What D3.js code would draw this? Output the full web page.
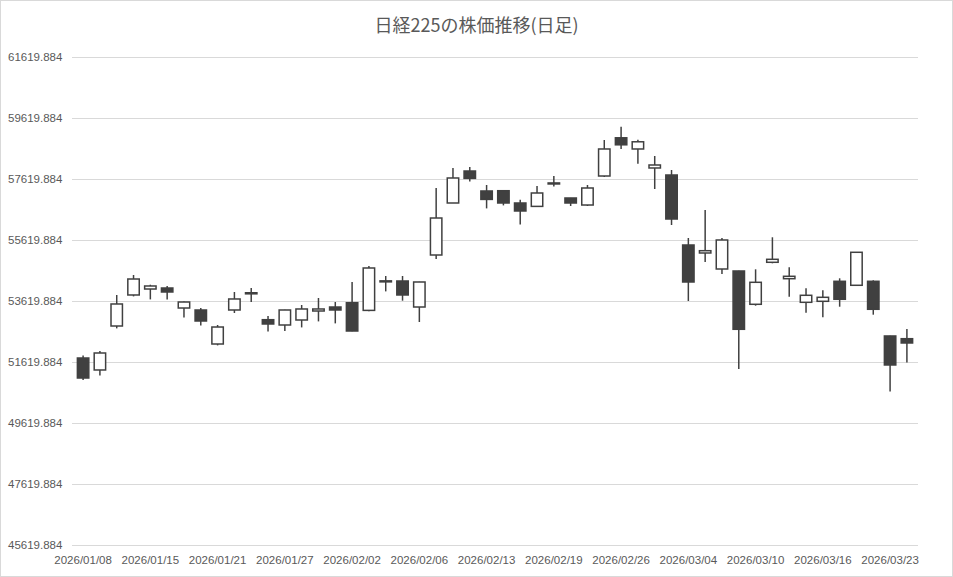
<!DOCTYPE html>
<html>
<head>
<meta charset="utf-8">
<script src="https://cdn.jsdelivr.net/npm/d3@7"></script>
<style>
  body { margin: 0; background: #fff; }
  svg { display: block; }
  .tick text { fill: #595959; font-family: "Liberation Sans", Arial, sans-serif; font-size: 11.5px; }
</style>
</head>
<body>
<div id="chart"></div>
<script>
// trading days (daily bars)
var dates = ["2026/01/08","2026/01/09","2026/01/13","2026/01/14","2026/01/15","2026/01/16","2026/01/19","2026/01/20",
  "2026/01/21","2026/01/22","2026/01/23","2026/01/26","2026/01/27","2026/01/28","2026/01/29","2026/01/30",
  "2026/02/02","2026/02/03","2026/02/04","2026/02/05","2026/02/06","2026/02/09","2026/02/10","2026/02/12",
  "2026/02/13","2026/02/16","2026/02/17","2026/02/18","2026/02/19","2026/02/20","2026/02/24","2026/02/25",
  "2026/02/26","2026/02/27","2026/03/02","2026/03/03","2026/03/04","2026/03/05","2026/03/06","2026/03/09",
  "2026/03/10","2026/03/11","2026/03/12","2026/03/13","2026/03/16","2026/03/17","2026/03/18","2026/03/19",
  "2026/03/23","2026/03/24"];

var open  = [51751,51358,52800,53817,54013,54046,53390,53325,52210,53325,53890,53007,52833,52997,53292,53423,
  53564,53312,54280,54276,53423,55128,56833,57882,57227,57236,56833,56722,57490,56997,56767,57718,
  58971,58604,57981,57751,55456,55194,54669,54604,53512,54889,54351,53577,53610,54266,54135,54266,
  52473,52384];
var high  = [51836,51981,53817,54473,54154,54112,53600,53390,52833,53915,54046,53128,53330,53489,53718,53587,
  54243,54768,54440,54440,54250,57325,57981,58013,57423,57240,56941,57390,57718,57000,57423,58899,
  59331,58905,58374,57915,55686,56604,55686,54610,54659,55709,54725,54036,53971,54364,55220,54299,
  52480,52702];
var low   = [51030,51181,52722,53771,53672,53672,53082,52820,52164,53227,53587,52623,52636,52754,52951,52886,
  52630,53280,53935,53630,52931,54997,56830,57541,56656,56754,56131,56720,57377,56735,56735,57686,
  58604,58118,57292,56112,53620,54899,54505,51390,53466,54856,53761,53236,53085,53433,54130,53171,
  50656,51607];
var close = [51095,51915,53522,54341,54112,53915,53587,52964,52767,53686,53855,52866,53325,53358,53358,53325,
  52636,54702,54250,53817,54243,56341,57653,57640,56951,56833,56571,57161,57460,56833,57325,58604,
  58741,58840,58079,56308,54243,55269,55620,52692,54233,54987,54430,53807,53741,53676,55217,53348,
  51522,52243];

var yTicks = [45619.884,47619.884,49619.884,51619.884,53619.884,55619.884,57619.884,59619.884,61619.884];
var title = "日経225の株価推移(日足)";

var W = 953, H = 577;
var margin = {top: 57, right: 35, bottom: 32, left: 72},
    width = W - margin.left - margin.right,
    height = H - margin.top - margin.bottom;

var svg = d3.select("#chart").append("svg")
    .attr("width", W)
    .attr("height", H);

// outer frame
svg.append("rect")
    .attr("x", 0.5).attr("y", 0.5)
    .attr("width", W - 1).attr("height", H - 1)
    .attr("fill", "#fff")
    .attr("stroke", "#d9d9d9");

svg.append("text")
    .attr("x", W / 2)
    .attr("y", 32)
    .attr("text-anchor", "middle")
    .attr("fill", "#595959")
    .style("font-family", "'Noto Sans CJK JP', sans-serif")
    .style("font-size", "18px")
    .text(title);

var g = svg.append("g").attr("transform", "translate(" + margin.left + "," + margin.top + ")");

var x = d3.scaleBand().domain(dates).range([0, width]).padding(0.32);
var y = d3.scaleLinear().domain([yTicks[0], yTicks[yTicks.length - 1]]).range([height, 0]);

// y axis + gridlines
var yAxis = d3.axisLeft(y)
    .tickValues(yTicks)
    .tickSize(-width)
    .tickFormat(d3.format(".3f"));

g.append("g")
    .attr("class", "axis axis--y")
    .call(yAxis)
    .call(function(s) {
      s.select(".domain").remove();
      s.selectAll(".tick line").attr("stroke", "#d9d9d9");
      s.selectAll(".tick text").attr("x", -64).attr("text-anchor", "start");
    });

// x axis, label every 4th day
var xAxis = d3.axisBottom(x)
    .tickValues(dates.filter(function(d, i) { return i % 4 === 0; }))
    .tickSize(0)
    .tickPadding(11);

g.append("g")
    .attr("class", "axis axis--x")
    .attr("transform", "translate(0," + height + ")")
    .call(xAxis)
    .call(function(s) { s.select(".domain").remove(); });

var bars = dates.map(function(d, i) {
  return {date: d, o: open[i], h: high[i], l: low[i], c: close[i]};
});

var candle = g.append("g").selectAll("g")
    .data(bars)
    .join("g")
    .attr("transform", function(d) { return "translate(" + x(d.date) + ",0)"; });

var cx = x.bandwidth() / 2;

candle.append("line")
    .attr("x1", cx).attr("x2", cx)
    .attr("y1", function(d) { return y(d.h); })
    .attr("y2", function(d) { return y(d.l); })
    .attr("stroke", "#404040")
    .attr("stroke-width", 1.5);

candle.append("rect")
    .attr("x", 0)
    .attr("width", x.bandwidth())
    .attr("y", function(d) { return y(Math.max(d.o, d.c)); })
    .attr("height", function(d) { return Math.max(1, Math.abs(y(d.o) - y(d.c))); })
    .attr("fill", function(d) { return d.c < d.o ? "#404040" : "#fff"; })
    .attr("stroke", "#404040")
    .attr("stroke-width", 1.5);
</script>
</body>
</html>
